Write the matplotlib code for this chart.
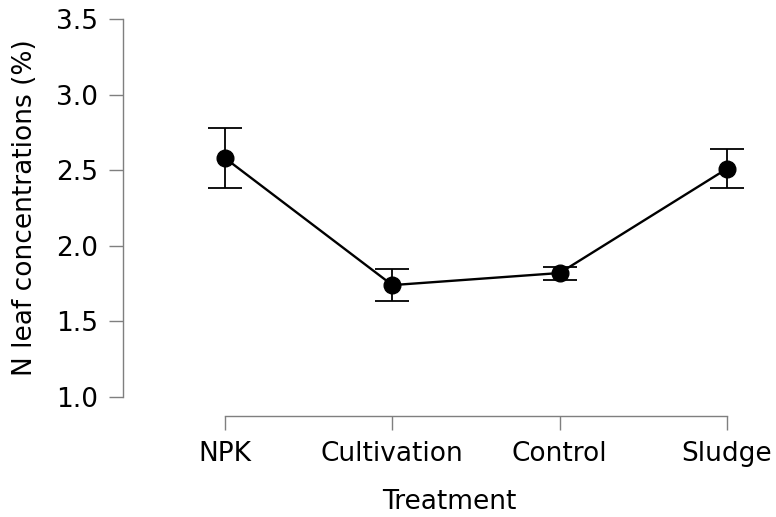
import matplotlib
matplotlib.use('Agg')
import matplotlib.pyplot as plt

# treatment means and error bar half-widths (N leaf concentration, %)
treatments = ['NPK', 'Cultivation', 'Control', 'Sludge']
means = [2.58, 1.74, 1.82, 2.51]
errors = [0.20, 0.106, 0.043, 0.127]
yticks = [1.0, 1.5, 2.0, 2.5, 3.0, 3.5]

W, H = 776, 517
fig = plt.figure(figsize=(W / 100, H / 100), dpi=100)

# axes rectangle in pixels: y spine at x=123, x spine at y=416
left, bottom = 123, 416
ax = fig.add_axes([left / W, (H - bottom) / H, (W - left) / W, bottom / H])

xpos = list(range(1, len(treatments) + 1))
px_x = 167.3   # pixels per category
px_y = 151.2   # pixels per unit on y
ax.set_xlim(1 - (225 - left) / px_x, 4 + (W - 727) / px_x)
ax.set_ylim(1.0 - (bottom - 397) / px_y, 3.5 + 19 / px_y)

ax.errorbar(xpos, means, yerr=errors, color='black', lw=1.7,
            marker='o', markersize=12, elinewidth=1.3,
            capsize=12, capthick=1.3)

spine_col = '#7f7f7f'
for s in ['top', 'right']:
    ax.spines[s].set_visible(False)
ax.spines['left'].set_bounds(yticks[0], yticks[-1])
ax.spines['bottom'].set_bounds(xpos[0], xpos[-1])
for s in ['left', 'bottom']:
    ax.spines[s].set_color(spine_col)
    ax.spines[s].set_linewidth(1.0)

ax.set_xticks(xpos)
ax.set_xticklabels(treatments)
ax.set_yticks(yticks)
ax.set_yticklabels(['%.1f' % v for v in yticks])
ax.tick_params(axis='y', length=10, width=1.0, color=spine_col, pad=8,
               labelsize=19)
ax.tick_params(axis='x', length=10, width=1.0, color=spine_col, pad=8,
               labelsize=19)

ax.set_ylabel('N leaf concentrations (%)', fontsize=19, labelpad=13)
ax.set_xlabel('Treatment', fontsize=19, labelpad=16)
ax.patch.set_alpha(0)

fig.savefig('out.png', dpi=100)
